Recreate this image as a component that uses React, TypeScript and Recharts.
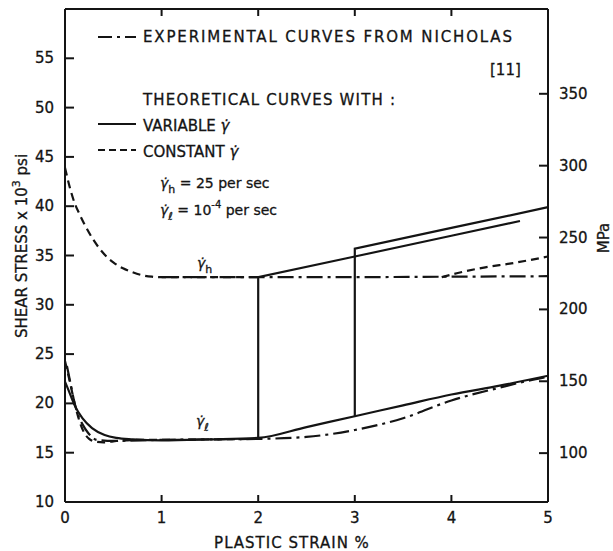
import React from "react";
import { LineChart, Line, XAxis, YAxis } from "recharts";

// Plastic strain (%) vs shear stress (ksi).
// upper branch: gamma-dot h = 25 / sec
const hiConstX = [0, 0.05, 0.1, 0.15, 0.2, 0.3, 0.4, 0.5, 0.6, 0.7, 0.8, 0.9, 1.0, 1.5, 2.0];
const hiConstY = [43.9, 41.9, 40.3, 39.2, 38.2, 36.5, 35.2, 34.3, 33.7, 33.3, 33.0, 32.85, 32.8, 32.8, 32.8];
const hiTailX = [3.9, 4.1, 4.35, 4.62, 5.0];
const hiTailY = [32.8, 33.3, 33.8, 34.2, 34.9];
const hiExpX = [1.0, 2.0, 3.0, 4.0, 5.0];
const hiExpY = [32.8, 32.8, 32.8, 32.85, 32.9];

// lower branch: gamma-dot l = 1e-4 / sec
const loConstX = [0, 0.05, 0.1, 0.15, 0.2, 0.25, 0.3, 0.4, 0.5, 0.6, 0.8, 1.0, 1.5, 2.0];
const loConstY = [24.3, 22.2, 20.0, 18.2, 17.0, 16.4, 16.15, 16.05, 16.15, 16.25, 16.3, 16.3, 16.35, 16.4];
const loExpX = [0.02, 0.06, 0.1, 0.14, 0.18, 0.24, 0.33, 0.5, 1.0, 1.5, 2.0, 2.5, 3.0, 3.5, 4.0, 4.5, 4.75, 5.0];
const loExpY = [23.8, 21.9, 20.0, 18.7, 17.9, 17.0, 16.3, 16.2, 16.3, 16.35, 16.4, 16.6, 17.3, 18.5, 20.3, 21.6, 22.2, 22.7];
const loVarX = [0, 0.03, 0.1, 0.18, 0.28, 0.41, 0.53, 0.7, 1.0, 1.5, 2.0, 2.5, 3.0, 3.5, 4.0, 4.5, 5.0];
const loVarY = [22.2, 21.5, 19.8, 18.5, 17.5, 16.8, 16.5, 16.35, 16.25, 16.35, 16.5, 17.6, 18.7, 19.8, 20.9, 21.8, 22.8];

// rate jumps (variable gamma-dot) at 2 % and 3 % strain
const jump2X = [2, 2, 3, 4, 4.71];
const jump2Y = [16.5, 32.8, 34.9, 37.0, 38.5];
const jump3X = [3, 3, 4, 5];
const jump3Y = [18.7, 35.7, 37.8, 39.9];

const strainTicks = [0, 1, 2, 3, 4, 5];
const topTicks = [1, 2, 3, 4];
const ksiTicks = [10, 15, 20, 25, 30, 35, 40, 45, 50, 55];
const mpaTicks = [100, 150, 200, 250, 300, 350];

const W = 613;
const H = 551;
const INK = "#141414";
const FONT = "'DejaVu Sans', sans-serif";
const DASH = "8 5";
const DASHDOT = "16 5 3 5";
const GAP = 11;

const pts = (xs: number[], ys: number[]) => xs.map((x, i) => ({ x, y: ys[i] }));

// inward tick marks + labels, drawn by hand so the marks point into the plot
function makeTick(side: "left" | "right" | "bottom" | "top") {
  return (p: any) => {
    const x = Number(p.x);
    const y = Number(p.y);
    const label = String(p.payload.value);
    const txt = { fill: INK, stroke: INK, strokeWidth: 0.3, fontSize: 15, fontFamily: FONT };
    if (side === "left") {
      return (
        <g>
          <path d={`M${x + GAP},${y}h9`} stroke={INK} strokeWidth={2} fill="none" />
          <text x={x} y={y} textAnchor="end" dominantBaseline="central" {...txt}>{label}</text>
        </g>
      );
    }
    if (side === "right") {
      return (
        <g>
          <path d={`M${x - GAP},${y}h-9`} stroke={INK} strokeWidth={2} fill="none" />
          <text x={x} y={y} textAnchor="start" dominantBaseline="central" {...txt}>{label}</text>
        </g>
      );
    }
    if (side === "bottom") {
      return (
        <g>
          <path d={`M${x},${y - GAP}v-7`} stroke={INK} strokeWidth={2} fill="none" />
          <text x={x} y={y + 10} textAnchor="middle" {...txt}>{label}</text>
        </g>
      );
    }
    return <path d={`M${x},${y}v7`} stroke={INK} strokeWidth={2} fill="none" />;
  };
}

function Gdot({ sub }: { sub: string }) {
  return (
    <>
      <tspan fontStyle="italic">γ̇</tspan>
      <tspan dy={5} fontSize={11}>{sub}</tspan>
      <tspan dy={-5}> </tspan>
    </>
  );
}

export default function App() {
  const line = (xs: number[], ys: number[], dash?: string, curve: "monotone" | "linear" = "monotone") => (
    <Line
      xAxisId="b"
      yAxisId="l"
      data={pts(xs, ys)}
      dataKey="y"
      type={curve}
      stroke={INK}
      strokeWidth={2.2}
      strokeDasharray={dash}
      dot={false}
      activeDot={false}
      isAnimationActive={false}
    />
  );

  return (
    <div style={{ position: "absolute", left: 0, top: 0, width: W, height: H, background: "#fff" }}>
      <LineChart width={W} height={H} margin={{ top: 8, right: 0, bottom: 0, left: 0 }}>
        <XAxis
          xAxisId="b"
          type="number"
          dataKey="x"
          domain={[0, 5]}
          ticks={strainTicks}
          height={49}
          stroke={INK}
          strokeWidth={2}
          tickLine={false}
          tickSize={0}
          tickMargin={GAP}
          tick={makeTick("bottom")}
        />
        <XAxis
          xAxisId="t"
          orientation="top"
          type="number"
          dataKey="x"
          domain={[0, 5]}
          ticks={topTicks}
          height={1}
          stroke={INK}
          strokeWidth={2}
          tickLine={false}
          tickSize={0}
          tickMargin={0}
          tick={makeTick("top")}
        />
        <YAxis
          yAxisId="l"
          type="number"
          domain={[10, 60]}
          ticks={ksiTicks}
          width={65}
          stroke={INK}
          strokeWidth={2}
          tickLine={false}
          tickSize={0}
          tickMargin={GAP}
          tick={makeTick("left")}
        />
        <YAxis
          yAxisId="r"
          orientation="right"
          type="number"
          domain={[66, 409]}
          ticks={mpaTicks}
          width={65}
          stroke={INK}
          strokeWidth={2}
          tickLine={false}
          tickSize={0}
          tickMargin={GAP}
          tick={makeTick("right")}
        />
        {/* invisible helper series so the top and MPa axes are drawn */}
        <Line
          xAxisId="t"
          yAxisId="r"
          data={pts(topTicks, mpaTicks)}
          dataKey="y"
          stroke="none"
          dot={false}
          activeDot={false}
          isAnimationActive={false}
        />
        {line(hiConstX, hiConstY, DASH)}
        {line(hiTailX, hiTailY, DASH)}
        {line(hiExpX, hiExpY, DASHDOT, "linear")}
        {line(loConstX, loConstY, DASH)}
        {line(loExpX, loExpY, DASHDOT)}
        {line(loVarX, loVarY)}
        {line(jump2X, jump2Y, undefined, "linear")}
        {line(jump3X, jump3Y, undefined, "linear")}
      </LineChart>

      <svg
        width={W}
        height={H}
        style={{ position: "absolute", left: 0, top: 0, pointerEvents: "none" }}
        fontFamily={FONT}
        fill={INK}
        stroke={INK}
        strokeWidth={0.3}
      >
        {/* legend */}
        <line x1={98} x2={136} y1={37} y2={37} strokeWidth={2} strokeDasharray="14 5 3 5" />
        <text x={143} y={42} fontSize={15} textLength={369} lengthAdjust="spacing">
          EXPERIMENTAL CURVES FROM NICHOLAS
        </text>
        <text x={490} y={75} fontSize={15}>[11]</text>
        <text x={143} y={105} fontSize={15} textLength={252} lengthAdjust="spacing">
          THEORETICAL CURVES WITH :
        </text>
        <line x1={98} x2={136} y1={124} y2={124} strokeWidth={2} />
        <text x={143} y={131} fontSize={15}>
          VARIABLE <tspan fontStyle="italic">γ̇</tspan>
        </text>
        <line x1={98} x2={136} y1={150} y2={150} strokeWidth={2} strokeDasharray="7 4" />
        <text x={143} y={157} fontSize={15}>
          CONSTANT <tspan fontStyle="italic">γ̇</tspan>
        </text>
        <text x={160} y={188} fontSize={14}>
          <Gdot sub="h" />= 25 per sec
        </text>
        <text x={160} y={215} fontSize={14}>
          <Gdot sub="ℓ" />= 10<tspan dy={-7} fontSize={10}>-4</tspan>
          <tspan dy={7}> per sec</tspan>
        </text>

        {/* curve labels */}
        <text x={197} y={268} fontSize={14}>
          <Gdot sub="h" />
        </text>
        <text x={196} y={426} fontSize={14}>
          <Gdot sub="ℓ" />
        </text>

        {/* axis titles */}
        <text
          x={22}
          y={246}
          fontSize={15}
          textAnchor="middle"
          dominantBaseline="central"
          transform="rotate(-90 22 246)"
        >
          SHEAR STRESS x 10<tspan dy={-6} fontSize={11}>3</tspan>
          <tspan dy={6}> psi</tspan>
        </text>
        <text x={292} y={548} fontSize={15} textAnchor="middle" letterSpacing={1}>
          PLASTIC STRAIN %
        </text>
        <text
          x={604}
          y={238}
          fontSize={15}
          textAnchor="middle"
          dominantBaseline="central"
          transform="rotate(-90 604 238)"
        >
          MPa
        </text>
      </svg>
    </div>
  );
}
